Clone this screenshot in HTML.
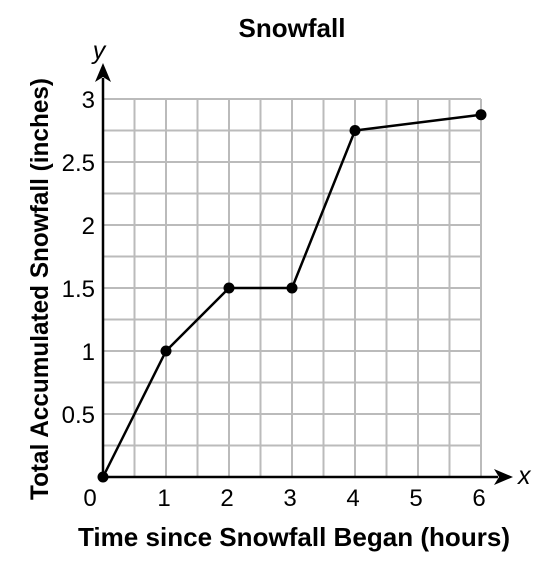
<!DOCTYPE html>
<html><head><meta charset="utf-8"><style>
html,body{margin:0;padding:0;background:#fff;}
svg{display:block;font-family:"Liberation Sans",Arial,sans-serif;}
</style></head><body>
<svg id="c" width="539" height="565" viewBox="0 0 539 565">
<text x="292" y="37" text-anchor="middle" font-size="26" font-weight="bold">Snowfall</text>
<g id="grid"></g>
<g id="axes"></g>
<g id="series"></g>
<text x="294" y="546" text-anchor="middle" font-size="26" font-weight="bold" textLength="432" lengthAdjust="spacingAndGlyphs">Time since Snowfall Began (hours)</text>
<text transform="translate(48,289) rotate(-90)" text-anchor="middle" font-size="25" font-weight="bold" textLength="422" lengthAdjust="spacingAndGlyphs">Total Accumulated Snowfall (inches)</text>
</svg>
<script>
const hours=[0,1,2,3,4,6];
const snowfall=[0,1,1.5,1.5,2.75,2.875];
const xTicks=[0,1,2,3,4,5,6];
const yTicks=[0.5,1,1.5,2,2.5,3];
const x0=103,y0=477,xs=63,ys=126;
const X=v=>x0+v*xs, Y=v=>y0-v*ys;
const NS="http://www.w3.org/2000/svg";
function mk(t,a,p){const e=document.createElementNS(NS,t);for(const k in a)e.setAttribute(k,a[k]);p.appendChild(e);return e;}
const grid=document.getElementById('grid'),axes=document.getElementById('axes'),ser=document.getElementById('series');
for(let i=1;i<=12;i++){const l=mk('line',{x1:X(i*0.5),x2:X(i*0.5),y1:Y(0),y2:Y(3),stroke:'#bbb','stroke-width':2},grid);

}
for(let i=1;i<=12;i++){const l=mk('line',{x1:X(0),x2:X(6),y1:Y(i*0.25),y2:Y(i*0.25),stroke:'#bbb','stroke-width':2},grid);

}
let a=mk('line',{x1:X(0),x2:X(0),y1:Y(0),y2:78,stroke:'#000','stroke-width':2.5},axes);


a=mk('polygon',{points:`${X(0)-8},82 ${X(0)},63 ${X(0)+8},82 ${X(0)},77`,fill:'#000'},axes);


a=mk('line',{x1:X(0),x2:498,y1:Y(0),y2:Y(0),stroke:'#000','stroke-width':2.5},axes);


a=mk('polygon',{points:`494,${Y(0)-8} 513,${Y(0)} 494,${Y(0)+8} 499,${Y(0)}`,fill:'#000'},axes);


a=mk('text',{x:518,y:Y(0)+7,'font-size':25,'font-style':'italic'},axes);a.textContent='x';


a=mk('text',{x:X(0)-4,y:59,'font-size':25,'font-style':'italic','text-anchor':'middle'},axes);a.textContent='y';


xTicks.forEach((t,i)=>{const e=mk('text',{x:i==0?X(t)-13:X(t)-2,y:506,'font-size':24,'text-anchor':'middle'},axes);e.textContent=t;

});
yTicks.forEach(t=>{const e=mk('text',{x:X(0)-8,y:Y(t)+9,'font-size':24,'text-anchor':'end'},axes);e.textContent=t;

});
const pl=mk('polyline',{points:hours.map((h,i)=>X(h)+','+Y(snowfall[i])).join(' '),fill:'none',stroke:'#000','stroke-width':2.5},ser);


hours.forEach((h,i)=>{const c=mk('circle',{cx:X(h),cy:Y(snowfall[i]),r:5.5,fill:'#000'},ser);

});
</script>
</body></html>
